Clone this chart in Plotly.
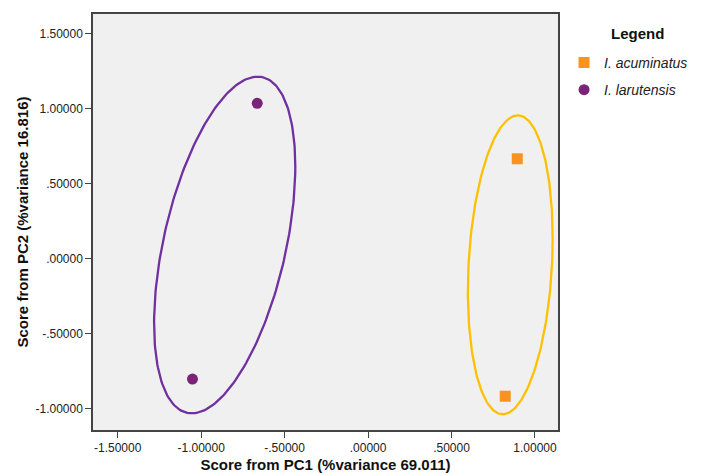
import numpy as np
import plotly.graph_objects as go

# PCA scores for each species (PC1, PC2)
acuminatus_pc1 = [0.894, 0.822]
acuminatus_pc2 = [0.666, -0.915]
larutensis_pc1 = [-0.664, -1.052]
larutensis_pc2 = [1.035, -0.801]

# Group ellipses: centre (x, y), half-extent (x, y), phase between x and y
acuminatus_ellipse = dict(cx=0.852, cy=-0.040, wx=0.254, hy=0.995, phase=np.arccos(0.177))
larutensis_ellipse = dict(cx=-0.859, cy=0.092, wx=0.423, hy=1.121, phase=np.arccos(0.466))

x_ticks = [-1.5, -1.0, -0.5, 0.0, 0.5, 1.0]
x_tick_labels = ["-1.50000", "-1.00000", "-.50000", ".00000", ".50000", "1.00000"]
y_ticks = [-1.0, -0.5, 0.0, 0.5, 1.0, 1.5]
y_tick_labels = ["-1.00000", "-.50000", ".00000", ".50000", "1.00000", "1.50000"]

FONT = "Liberation Sans, Arial"


def ellipse_path(e, n=240):
    t = np.linspace(0, 2 * np.pi, n)
    x = e["cx"] + e["wx"] * np.cos(t)
    y = e["cy"] + e["hy"] * np.cos(t - e["phase"])
    return x, y


fig = go.Figure()

for e, col in [(larutensis_ellipse, "#7030A0"), (acuminatus_ellipse, "#FFC000")]:
    ex, ey = ellipse_path(e)
    fig.add_trace(go.Scatter(x=ex, y=ey, mode="lines", line=dict(color=col, width=2.3),
                             showlegend=False, hoverinfo="skip"))

fig.add_trace(go.Scatter(x=acuminatus_pc1, y=acuminatus_pc2, mode="markers",
                         name="I. acuminatus", legendgroup="acu",
                         marker=dict(symbol="square", size=11, color="#F7931E")))
fig.add_trace(go.Scatter(x=larutensis_pc1, y=larutensis_pc2, mode="markers",
                         name="I. larutensis", legendgroup="lar",
                         marker=dict(symbol="circle", size=11, color="#7B2378")))

axis_common = dict(
    showgrid=False, zeroline=False, showline=True, linecolor="#444", linewidth=1.5,
    mirror=True, ticks="outside", ticklen=6, tickcolor="#444",
    tickfont=dict(family=FONT, size=12, color="#222"),
)

fig.update_xaxes(range=[-1.648, 1.138], tickvals=x_ticks, ticktext=x_tick_labels,
                 title=dict(text="<b>Score from PC1 (%variance 69.011)</b>",
                            font=dict(family=FONT, size=15, color="#111"),
                            standoff=8),
                 **axis_common)
fig.update_yaxes(range=[-1.14, 1.63], tickvals=y_ticks, ticktext=y_tick_labels,
                 title=dict(text="<b>Score from PC2 (%variance 16.816)</b>",
                            font=dict(family=FONT, size=15, color="#111"),
                            standoff=3),
                 **axis_common)

fig.update_layout(
    width=703, height=473,
    margin=dict(l=93, r=145, t=14, b=43, autoexpand=False),
    paper_bgcolor="white", plot_bgcolor="#F0F0F0",
    legend=dict(
        x=1.013, y=0.921, xanchor="left", yanchor="top",
        font=dict(family=FONT, size=14, color="#222", style="italic"),
        itemwidth=30, tracegroupgap=6,
    ),
    annotations=[dict(
        text="<b>Legend</b>", xref="paper", yref="paper",
        x=1.171, y=0.929, xanchor="center", yanchor="bottom", showarrow=False,
        font=dict(family=FONT, size=15, color="#111"),
    )],
)

fig.write_html("out.html")
